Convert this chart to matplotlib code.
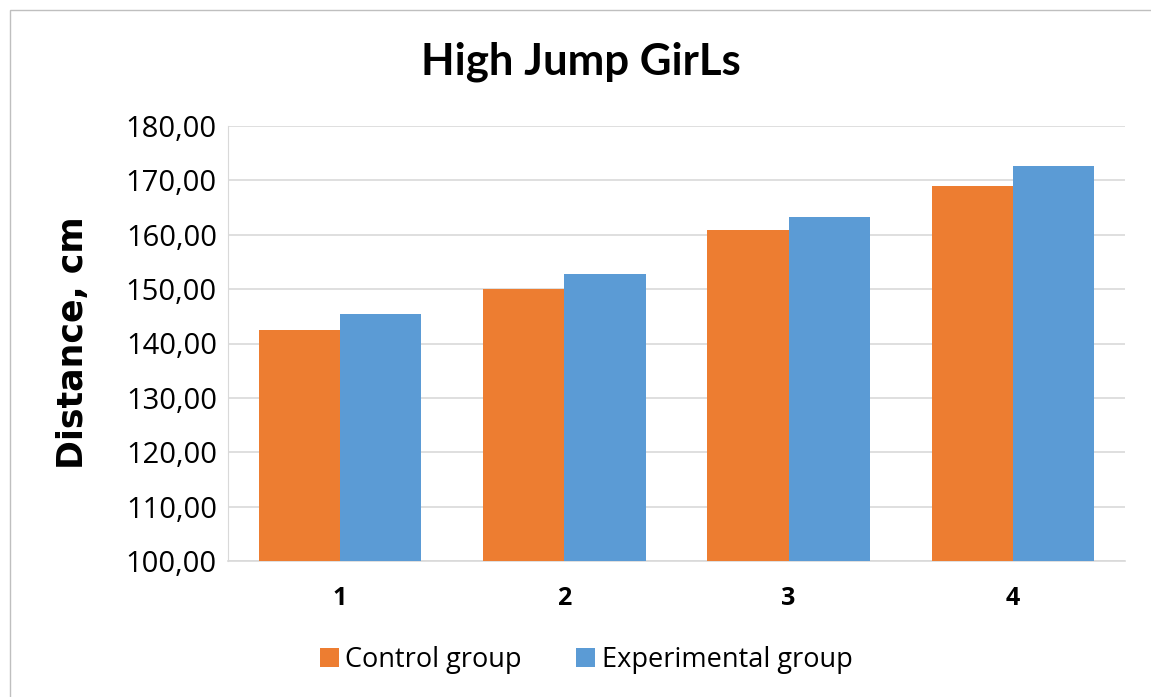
import matplotlib
matplotlib.use("Agg")
import matplotlib.pyplot as plt
import numpy as np
from matplotlib.patches import Rectangle

categories = ["1", "2", "3", "4"]
control = [142.4, 150.1, 160.9, 169.0]
experimental = [145.5, 152.7, 163.2, 172.6]
yticks = [100, 110, 120, 130, 140, 150, 160, 170, 180]
series_names = ["Control group", "Experimental group"]
title = "High Jump GirLs"
ylabel = "Distance, cm"

W, H = 1151, 697
fig = plt.figure(figsize=(W / 100, H / 100), dpi=100)
fig.patch.set_facecolor("white")

# outer frame
fig.add_artist(Rectangle((10 / W, -0.01), 1.2, (H - 10) / H + 0.01, transform=fig.transFigure,
                         fill=False, edgecolor="#bfbfbf", linewidth=1.0))

ax = fig.add_axes([228 / W, 1 - 561 / H, (1125 - 228) / W, (561 - 126) / H])
x = np.arange(len(categories))
bw = 0.362
ax.bar(x - bw / 2, [v - 100 for v in control], bw, bottom=100, color="#ED7D31", label=series_names[0], zorder=3)
ax.bar(x + bw / 2, [v - 100 for v in experimental], bw, bottom=100, color="#5B9BD5", label=series_names[1], zorder=3)
ax.set_xlim(-0.5, len(categories) - 0.5)
ax.set_ylim(100, 180)
ax.set_yticks(yticks)
ax.set_yticklabels([f"{t:.2f}".replace(".", ",") for t in yticks], fontsize=21, family="Open Sans")
ax.set_xticks(x)
ax.set_xticklabels(categories, fontsize=18, fontweight="bold", family="Open Sans")
ax.tick_params(axis="both", length=0)
ax.tick_params(axis="y", pad=8)
ax.tick_params(axis="x", pad=18)
ax.grid(axis="y", color="#d9d9d9", linewidth=1.2, zorder=0)
for s in ["top", "right"]:
    ax.spines[s].set_visible(False)
ax.spines["left"].set_color("#d9d9d9")
ax.spines["bottom"].set_color("#d9d9d9")
ax.spines["bottom"].set_linewidth(1.2)

fig.text(581 / W, 1 - 62 / H, title, ha="center", va="center", fontsize=31.5, fontweight="bold", family="Lato")
fig.text(73 / W, 1 - 343 / H, ylabel, ha="center", va="center", rotation=90, fontsize=25,
         fontweight="bold", family="DejaVu Sans")

leg = fig.legend(loc="center", bbox_to_anchor=(586 / W, 1 - 660 / H), ncol=2, frameon=False,
                 prop={"family": "Open Sans", "size": 19.5}, handlelength=0.7, handleheight=0.7,
                 handletextpad=0.25, columnspacing=2.0)

fig.savefig("out.png", dpi=100, facecolor="white")
